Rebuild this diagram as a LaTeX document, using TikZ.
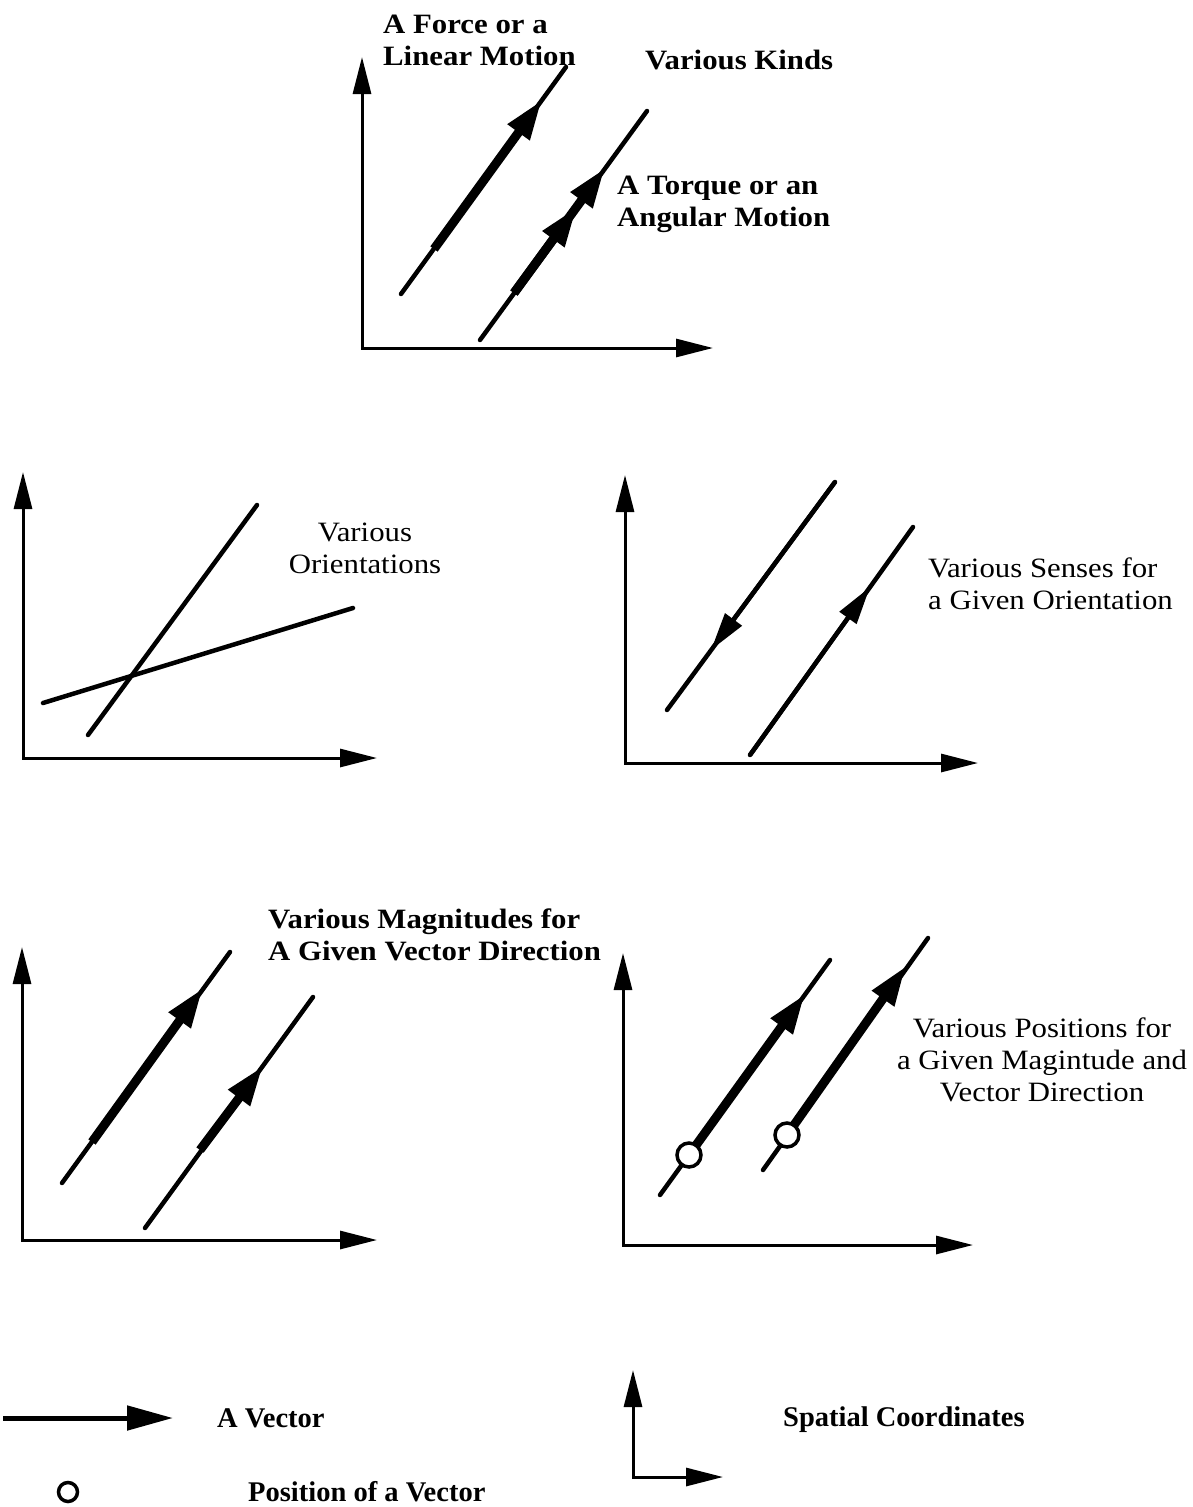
\documentclass[tikz,border=0pt]{standalone}
\usepackage{fontspec}
\setmainfont{Liberation Serif}
\newfontfamily\panelfont[FakeStretch=1.1]{Liberation Serif}
\usetikzlibrary{arrows.meta}
\tikzset{
  axis/.style={line width=3pt,{Triangle[length=37pt,width=18pt]}-{Triangle[length=37pt,width=18pt]}},
  ray/.style={line width=4.5pt,line cap=round},
  vec/.style={line width=9pt,-{Triangle[length=40pt,width=25pt]}},
  sense/.style={line width=4.5pt,-{Triangle[length=38pt,width=20pt]}},
  posn/.style={circle,draw,line width=3.5pt,fill=white,minimum size=24pt,inner sep=0pt},
  lbl/.style={font=\panelfont\fontsize{28}{32}\selectfont,align=left,inner sep=0pt,anchor=west},
  lblb/.style={lbl,font=\panelfont\bfseries\fontsize{28}{32}\selectfont},
  key/.style={font=\bfseries\fontsize{28.5}{32}\selectfont,anchor=west,inner sep=0pt},
}

\begin{document}
\begin{tikzpicture}[x=1pt,y=-1pt]
  \useasboundingbox (0,0) rectangle (1193,1507);

  % kinds
  \draw[axis] (362,57) -- (362,348) -- (713,348);
  \draw[ray] (401,294) -- (566,67);
  \draw[vec] (434,249) -- (542,100);
  \draw[ray] (480,340) -- (647,111);
  \draw[vec] (514,293) -- (577,207);
  \draw[vec] (514,293) -- (605,168);
  \node[lblb] (force) at (383,40) {A Force or a\\Linear Motion};
  \node[lblb] (kinds) at (645,60) {Various Kinds};
  \node[lblb] (torque) at (617,204) {A Torque or an\\Angular Motion};

  % orientations
  \draw[axis] (23,472) -- (23,758) -- (377,758);
  \draw[ray] (88,735) -- (257,505);
  \draw[ray] (43,703) -- (353,608);
  \node[lbl,align=center,anchor=center] (orient) at (365,548) {Various\\Orientations};

  % senses
  \draw[axis] (625,475) -- (625,763) -- (978,763);
  \draw[ray] (835,482) -- (667,710);
  \draw[sense] (835,482) -- (711,650);
  \draw[ray] (750,755) -- (913,527);
  \draw[sense] (750,755) -- (870,587);
  \node[lbl] (senses) at (928,584) {Various Senses for\\a Given Orientation};

  % magnitudes
  \draw[axis] (22,947) -- (22,1240) -- (377,1240);
  \draw[ray] (62,1183) -- (230,952);
  \draw[vec] (92,1142) -- (203,988);
  \draw[ray] (145,1228) -- (313,997);
  \draw[vec] (200,1150) -- (263,1066);
  \node[lblb] (magn) at (268,935) {Various Magnitudes for\\A Given Vector Direction};

  % positions
  \draw[axis] (623,953) -- (623,1245) -- (973,1245);
  \draw[ray] (660,1195) -- (830,960);
  \draw[vec] (689,1155) -- (805,994);
  \node[posn] (posa) at (689,1155) {};
  \draw[ray] (763,1170) -- (928,938);
  \draw[vec] (787,1135) -- (906,966);
  \node[posn] (posb) at (787,1135) {};
  \node[lbl,align=center,anchor=center] (posl) at (1042,1060) {Various Positions for\\a Given Magintude and\\Vector Direction};

  % legend
  \draw[line width=5pt,-{Triangle[length=46pt,width=24pt]}] (3,1418) -- (173,1418);
  \node[key] (kvec) at (217,1418) {A Vector};
  \node[posn,minimum size=19pt,line width=3.5pt] (kpos) at (68,1492) {};
  \node[key] (kposl) at (248,1492) {Position of a Vector};
  \draw[axis] (633,1370) -- (633,1477) -- (723,1477);
  \node[key] (kaxes) at (783,1420) {Spatial Coordinates};
\end{tikzpicture}
\end{document}
